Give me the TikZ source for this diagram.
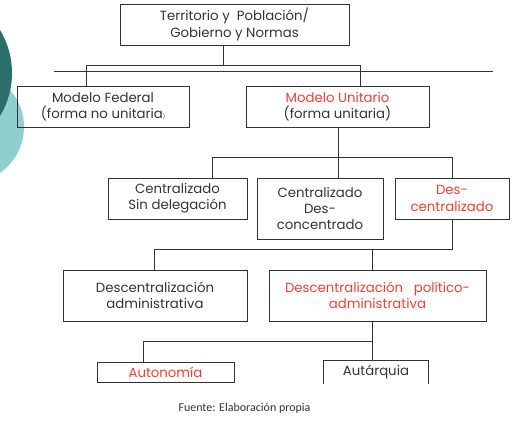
\documentclass[tikz,border=0pt]{standalone}
\usepackage{fontspec}
\setmainfont{Poppins}
\newfontfamily\fuentefont{Carlito}
\usepackage{tikz}
\usetikzlibrary{positioning,calc}
\definecolor{linea}{HTML}{333333}
\definecolor{rojo}{HTML}{EE4035}
\definecolor{tealosc}{HTML}{2C6E6A}
\definecolor{tealcla}{HTML}{8FCFCF}

\begin{document}
\begin{tikzpicture}[x=1pt,y=-1pt,
  caja/.style={draw=linea,line width=0.8pt,shape=rectangle,inner sep=0pt,align=center,
    font=\fontsize{13.3}{16.2}\selectfont,text=linea},
  enlace/.style={draw=linea,line width=0.8pt},
  rojotxt/.style={text=rojo}]
\useasboundingbox (0,0) rectangle (523,423);
\begin{scope}
\clip (0,0) rectangle (523,423);
\fill[tealcla] (-32,127) circle (56);
\fill[tealosc] (-71,73) circle (83);
\end{scope}
\node[caja,minimum width=229pt,minimum height=41pt] (terr) at (234.5,24.5) {Territorio y \ Población/\\Gobierno y Normas};
\node[caja,minimum width=172pt,minimum height=41pt] (fed) at (103,107) {Modelo Federal\\(forma no unitaria{\tiny)}};
\node[caja,minimum width=183pt,minimum height=41pt] (uni) at (337.5,107) {\textcolor{rojo}{Modelo Unitario}\\(forma unitaria)};
\node[caja,minimum width=139pt,minimum height=41pt] (sindel) at (177.5,198.5) {Centralizado\\Sin delegación};
\node[caja,minimum width=126pt,minimum height=61pt] (descon) at (320,208.5) {Centralizado\\Des-\\concentrado};
\node[caja,minimum width=114pt,minimum height=41pt,rojotxt] (descen) at (452,198.5) {Des-\\centralizado};
\node[caja,minimum width=184pt,minimum height=51pt] (dadm) at (155,295.5) {Descentralización\\administrativa};
\node[caja,minimum width=217pt,minimum height=51pt,rojotxt] (dpol) at (377.5,295.5) {Descentralización \ \ político-\\administrativa};
\node[caja,minimum width=137pt,minimum height=20pt,rojotxt] (auto) at (165.5,372) {Autonomía};
\node[caja,draw=none,minimum width=104pt,minimum height=23pt] (autq) at (376,372.5) {Autárquia};
\draw[enlace] (autq.south west) -- (autq.north west) -- (autq.north east) -- (autq.south east);
\coordinate (j1) at (223,65);
\coordinate (j1a) at (86,65);
\coordinate (j1b) at (360,65);
\draw[enlace] (terr.south -| j1) -- (j1);
\draw[enlace] (j1a |- fed.north) -- (j1a) -- (j1b) -- (j1b |- uni.north);
\draw[enlace] (54,71) -- (493,71);
\coordinate (j2) at (338,157);
\coordinate (j2a) at (212,157);
\coordinate (j2b) at (452,157);
\draw[enlace] (uni.south -| j2) -- (j2);
\draw[enlace] (j2a |- sindel.north) -- (j2a) -- (j2b) -- (descen.north);
\draw[enlace] (j2) -- (j2 |- descon.north);
\coordinate (j3) at (452,249);
\coordinate (j3a) at (154,249);
\coordinate (j3b) at (372,249);
\draw[enlace] (descen.south) -- (j3) -- (j3a) -- (j3a |- dadm.north);
\draw[enlace] (j3b) -- (j3b |- dpol.north);
\coordinate (j4) at (372,341);
\coordinate (j4a) at (143,341);
\draw[enlace] (dpol.south -| j4) -- (j4) -- (j4a) -- (j4a |- auto.north);
\draw[enlace] (j4) -- (j4 |- autq.north);
\node[font=\fuentefont\fontsize{12}{14}\selectfont,text=linea] (fuente) at (244.5,408) {Fuente: Elaboración propia};
\end{tikzpicture}
\end{document}
